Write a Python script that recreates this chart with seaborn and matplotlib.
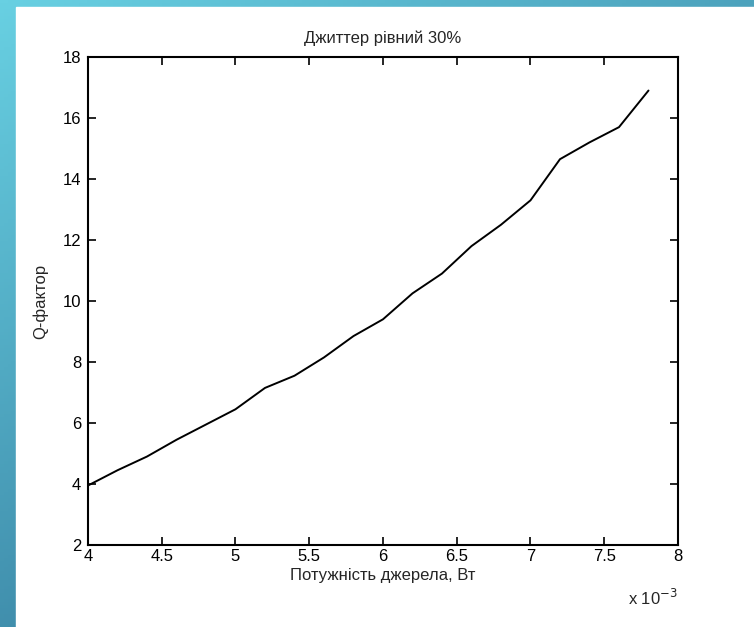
import numpy as np
import pandas as pd
import seaborn as sns
import matplotlib.pyplot as plt
from matplotlib.ticker import FuncFormatter, MultipleLocator

# source power, W (axis shown in units of 1e-3)
power = [0.0040, 0.0042, 0.0044, 0.0046, 0.0048, 0.0050, 0.0052, 0.0054, 0.0056, 0.0058,
         0.0060, 0.0062, 0.0064, 0.0066, 0.0068, 0.0070, 0.0072, 0.0074, 0.0076, 0.0078]
q_factor = [3.95, 4.45, 4.9, 5.45, 5.95, 6.45, 7.15, 7.55, 8.15, 8.85,
            9.4, 10.25, 10.9, 11.8, 12.5, 13.3, 14.65, 15.2, 15.7, 16.9]

title = "Джиттер рівний 30%"
xlabel = "Потужність джерела, Вт"
ylabel = "Q-фактор"

sns.set_theme(style="white")
plt.rcParams['font.family'] = ['Liberation Sans Narrow', 'Liberation Sans', 'DejaVu Sans']

df = pd.DataFrame({"power": power, "q": q_factor})

fig = plt.figure(figsize=(7.54, 6.27), dpi=100)

# teal slide frame behind the figure (light top-left, darker down and right)
bg = fig.add_axes([0, 0, 1, 1], zorder=-10)
rows = np.linspace(0, 1, 200)[:, None]
cols = np.linspace(0, 1, 200)[None, :]
img = np.clip(0.85 * rows + 0.6 * cols, 0, 1)
bg.imshow(img, aspect='auto', extent=[0, 1, 0, 1], origin='upper',
          cmap=sns.blend_palette(["#68d0e2", "#3a84a4"], as_cmap=True))
bg.add_patch(plt.Rectangle((16 / 754, 0), 1, 1 - 7 / 627, color="white"))
bg.set_xlim(0, 1)
bg.set_ylim(0, 1)
bg.axis("off")

ax = fig.add_axes([0.1167, 0.1308, 0.7825, 0.7783])
sns.lineplot(data=df, x="power", y="q", ax=ax, color="black", linewidth=1.4)

ax.set_xlim(0.004, 0.008)
ax.set_ylim(2, 18)
ax.xaxis.set_major_locator(MultipleLocator(0.0005))
ax.yaxis.set_major_locator(MultipleLocator(2))
ax.xaxis.set_major_formatter(FuncFormatter(lambda v, p: f"{v * 1e3:g}"))

ax.tick_params(direction="in", length=6, width=1.2, labelsize=12, colors="black",
               top=True, right=True, bottom=True, left=True, pad=5)
ax.tick_params(axis="x", pad=3)
for s in ax.spines.values():
    s.set_visible(True)
    s.set_color("black")
    s.set_linewidth(1.5)

ax.set_title(title, fontsize=12, pad=10)
ax.set_xlabel(xlabel, fontsize=12, labelpad=3)
ax.set_ylabel(ylabel, fontsize=12, labelpad=10)
ax.text(1.0, -0.088, "x 10$^{-3}$", transform=ax.transAxes, ha="right", va="top", fontsize=12)

fig.savefig("out.png", dpi=100)
